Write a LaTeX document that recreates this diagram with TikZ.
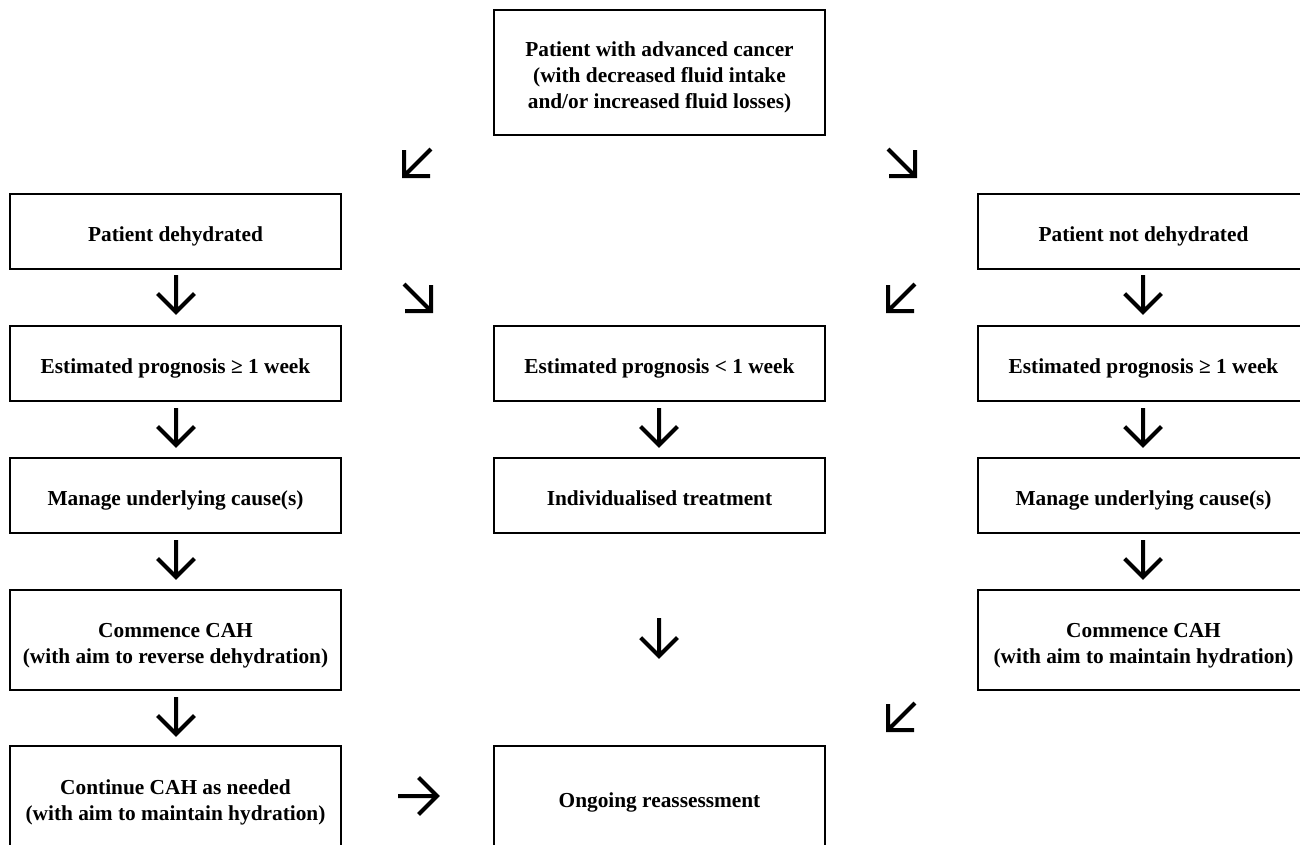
\documentclass[tikz,border=0pt]{standalone}
\usepackage{fontspec}
\setmainfont{Liberation Serif}
\usetikzlibrary{calc}
\newcommand\garrow[2]{\draw[arr] (#1) -- (#2) ($(#2)!19.5pt!45:(#1)$) -- (#2) -- ($(#2)!19.5pt!-45:(#1)$);}
\begin{document}
\begin{tikzpicture}[x=0.75pt,y=-0.75pt,
  box/.style={draw, line width=1.2pt, inner sep=0pt, minimum width=248.25pt},
  txt/.style={align=center, inner sep=0pt, text depth=0pt, yshift=-2.2pt,
    font=\bfseries\fontsize{16}{19.5}\selectfont},
  h75/.style={minimum height=56.25pt},
  h100/.style={minimum height=75pt},
  h125/.style={minimum height=93.75pt},
  arr/.style={line width=3pt, line join=miter, line cap=butt}]
\useasboundingbox (0,0) rectangle (1300,844);
\clip (0,0) rectangle (1300,844);
% boxes
\node[box,h125,label={[txt]center:{Patient with advanced cancer\\(with decreased fluid intake\\and/or increased fluid losses)}}] (top) at (659.5,72.5) {};
\node[box,h75,label={[txt]center:{Patient dehydrated}}] (dehyd) at (175.5,231.5) {};
\node[box,h75,label={[txt]center:{Patient not dehydrated}}] (notdehyd) at (1143.5,231.5) {};
\node[box,h75,label={[txt]center:{Estimated prognosis ≥ 1 week}}] (progL) at (175.5,363.5) {};
\node[box,h75,label={[txt]center:{Estimated prognosis < 1 week}}] (progM) at (659.5,363.5) {};
\node[box,h75,label={[txt]center:{Estimated prognosis ≥ 1 week}}] (progR) at (1143.5,363.5) {};
\node[box,h75,label={[txt]center:{Manage underlying cause(s)}}] (manL) at (175.5,495.5) {};
\node[box,h75,label={[txt]center:{Individualised treatment}}] (indiv) at (659.5,495.5) {};
\node[box,h75,label={[txt]center:{Manage underlying cause(s)}}] (manR) at (1143.5,495.5) {};
\node[box,h100,label={[txt]center:{Commence CAH\\(with aim to reverse dehydration)}}] (cahL) at (175.5,640) {};
\node[box,h100,label={[txt]center:{Commence CAH\\(with aim to maintain hydration)}}] (cahR) at (1143.5,640) {};
\node[box,minimum height=77.25pt,label={[txt]center:{Continue CAH as needed\\(with aim to maintain hydration)}}] (contL) at (175.5,797.5) {};
\node[box,minimum height=77.25pt,label={[txt]center:{Ongoing reassessment}}] (ongoing) at (659.5,797.5) {};
% arrow end points
\coordinate (a1s) at (431,149);  \coordinate (a1e) at (404,176);
\coordinate (a2s) at (888,149);  \coordinate (a2e) at (915,176);
\coordinate (a3s) at (176,275);  \coordinate (a3e) at (176,312);
\coordinate (a4s) at (404,284);  \coordinate (a4e) at (431,311);
\coordinate (a5s) at (915,284);  \coordinate (a5e) at (888,311);
\coordinate (a6s) at (1143,275); \coordinate (a6e) at (1143,312);
\coordinate (a7s) at (176,408);  \coordinate (a7e) at (176,445);
\coordinate (a8s) at (659,408);  \coordinate (a8e) at (659,445);
\coordinate (a9s) at (1143,408); \coordinate (a9e) at (1143,445);
\coordinate (a10s) at (176,540); \coordinate (a10e) at (176,577);
\coordinate (a11s) at (1143,540);\coordinate (a11e) at (1143,577);
\coordinate (a12s) at (659,618); \coordinate (a12e) at (659,656);
\coordinate (a13s) at (176,697); \coordinate (a13e) at (176,734);
\coordinate (a14s) at (915,703); \coordinate (a14e) at (888,730);
\coordinate (a15s) at (398,796); \coordinate (a15e) at (437,796);
\garrow{a1s}{a1e}
\garrow{a2s}{a2e}
\garrow{a3s}{a3e}
\garrow{a4s}{a4e}
\garrow{a5s}{a5e}
\garrow{a6s}{a6e}
\garrow{a7s}{a7e}
\garrow{a8s}{a8e}
\garrow{a9s}{a9e}
\garrow{a10s}{a10e}
\garrow{a11s}{a11e}
\garrow{a12s}{a12e}
\garrow{a13s}{a13e}
\garrow{a14s}{a14e}
\garrow{a15s}{a15e}
\end{tikzpicture}
\end{document}
